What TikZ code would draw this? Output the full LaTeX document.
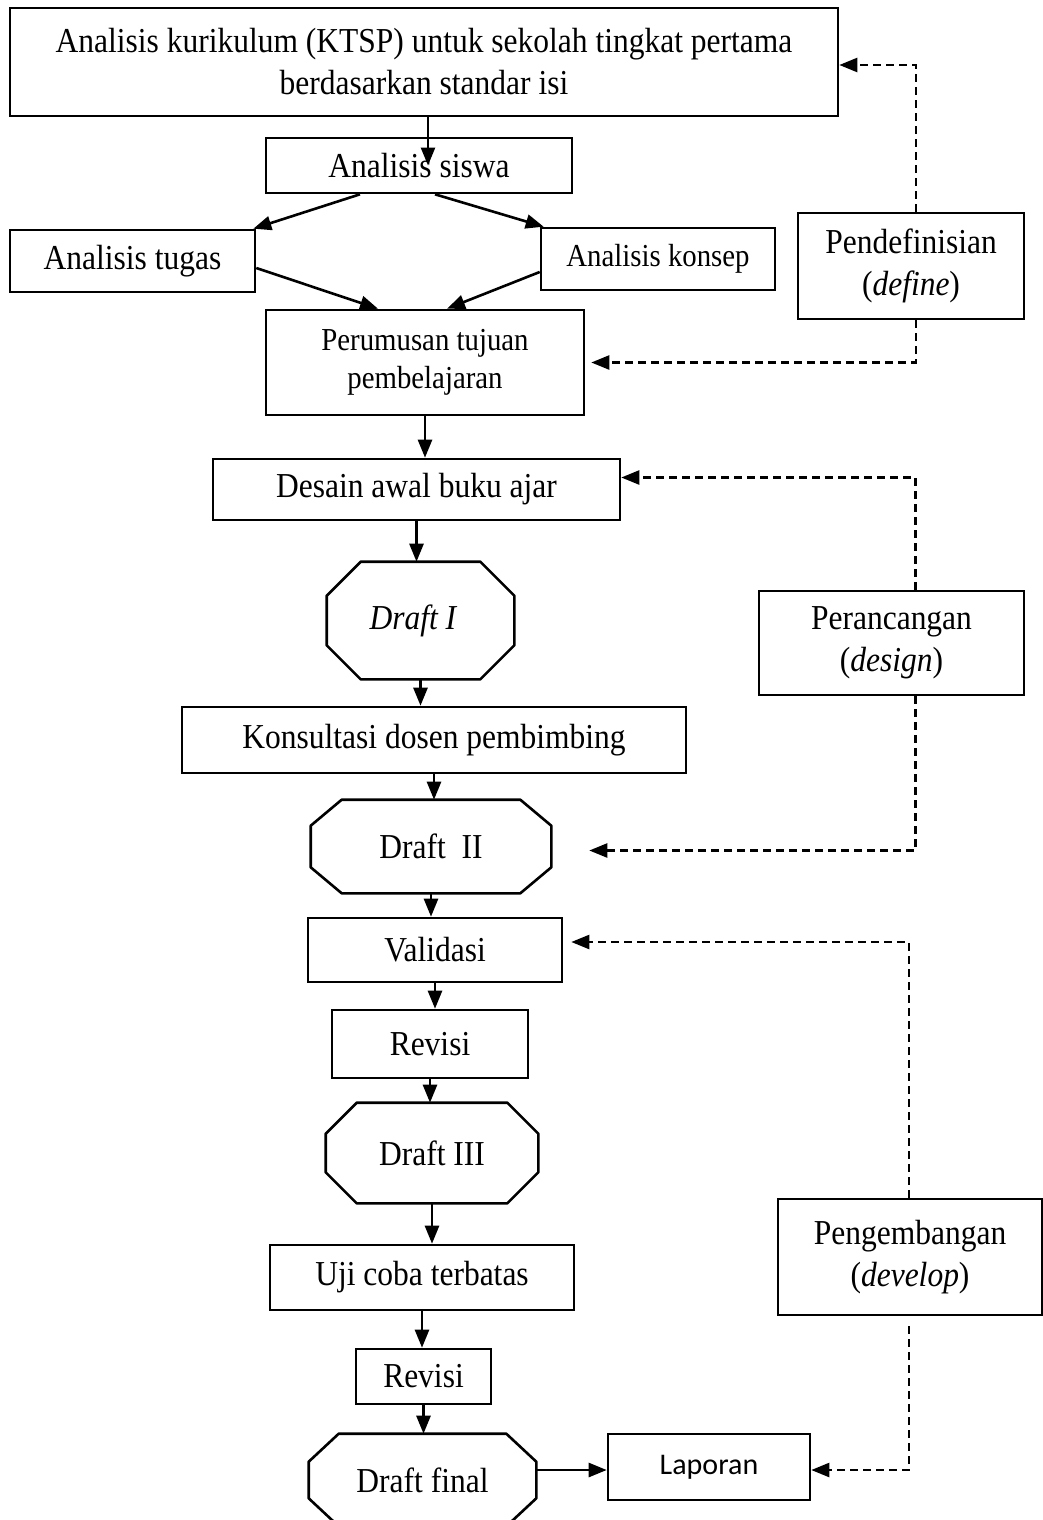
\documentclass[tikz,border=0pt]{standalone}
\usepackage{fontspec}
\setmainfont{Liberation Serif}[FakeStretch=0.9]
\newfontfamily\lapfont{Carlito}
\usetikzlibrary{arrows.meta}

\tikzset{
	kotak/.style={draw,line width=2.6pt,inner sep=0pt,align=center,font=\fontsize{35}{42}\selectfont},
	kecil/.style={font=\fontsize{32}{38}\selectfont},
	draf/.style={kotak,draw=none},
	arr/.style={-{Triangle[length=18pt,width=14pt]},line width=2.6pt},
	darr/.style={arr,line width=2.4pt,dash pattern=on 8pt off 5pt},
}

\begin{document}
\begin{tikzpicture}[x=1pt,y=-1pt]
		\path[use as bounding box,fill=white] (0,0) rectangle (1042,1520);
		% tahap define
		\node[kotak,minimum width=828,minimum height=108] (kur) at (424,62) {Analisis kurikulum (KTSP) untuk sekolah tingkat pertama\\ berdasarkan standar isi};
		\node[kotak,minimum width=306,minimum height=55] (siswa) at (419,165.5) {Analisis siswa};
		\node[kotak,minimum width=245,minimum height=62] (tugas) at (132.5,261) {Analisis tugas};
		\node[kotak,kecil,minimum width=234,minimum height=62] (konsep) at (658,259) {Analisis konsep};
		\node[kotak,kecil,minimum width=318,minimum height=105] (tujuan) at (425,362.5) {Perumusan tujuan\\ pembelajaran};
		\node[kotak,minimum width=226,minimum height=106] (define) at (911,266) {Pendefinisian\\ (\textit{define})};
		% tahap design
		\node[kotak,minimum width=407,minimum height=61] (desain) at (416.5,489.5) {Desain awal buku ajar};
		\node[draf,minimum width=185,minimum height=115] (drafa) at (420.5,620.5) {\hspace*{-14pt}\textit{Draft I}};
		\node[kotak,minimum width=504,minimum height=66] (konsul) at (434,740) {Konsultasi dosen pembimbing};
		\node[draf,minimum width=238,minimum height=91] (drafb) at (431,846.5) {Draft\ \ II};
		\node[kotak,minimum width=265,minimum height=104] (design) at (891.5,643) {Perancangan\\ (\textit{design})};
		% tahap develop
		\node[kotak,minimum width=254,minimum height=64] (valid) at (435,950) {Validasi};
		\node[kotak,minimum width=196,minimum height=68] (revisia) at (430,1044) {Revisi};
		\node[draf,minimum width=210,minimum height=98] (drafc) at (432,1153) {Draft III};
		\node[kotak,minimum width=304,minimum height=65] (uji) at (422,1277.5) {Uji coba terbatas};
		\node[kotak,minimum width=135,minimum height=55] (revisib) at (423.5,1376.5) {Revisi};
		\node[draf,minimum width=225,minimum height=90] (final) at (422.5,1480) {Draft final};
		\node[kotak,minimum width=202,minimum height=66,font=\lapfont\fontsize{30}{36}\selectfont] (lapor) at (709,1467) {Laporan};
		\node[kotak,minimum width=264,minimum height=116] (develop) at (910,1257) {Pengembangan\\ (\textit{develop})};

		% segi delapan untuk draft
		\foreach \n/\cx/\cy in {drafa/34/34,drafb/31/26,drafc/31/31,final/30/28}
			\draw[line width=2.6pt,line join=round] ([xshift=\cx pt]\n.north west) -- ([xshift=-\cx pt]\n.north east)
				-- ([yshift=-\cy pt]\n.north east) -- ([yshift=\cy pt]\n.south east)
				-- ([xshift=-\cx pt]\n.south east) -- ([xshift=\cx pt]\n.south west)
				-- ([yshift=\cy pt]\n.south west) -- ([yshift=-\cy pt]\n.north west) -- cycle;

		% panah
		\draw[arr] ([xshift=4pt]kur.south) -- ([xshift=4pt]kur.south |- siswa.center);
		\draw[arr] ([xshift=-59pt]siswa.south) -- ([xshift=-3pt]tugas.north east);
		\draw[arr] ([xshift=16pt]siswa.south) -- ([xshift=4pt]konsep.north west);
		\draw[arr] ([yshift=-7pt]tugas.east) -- ([xshift=-47pt]tujuan.north);
		\draw[arr] ([yshift=-13pt]konsep.west) -- ([xshift=22pt]tujuan.north);
		\foreach \a/\b in {tujuan/desain,desain/drafa,drafa/konsul,konsul/drafb,drafb/valid,valid/revisia,revisia/drafc,drafc/uji,uji/revisib,revisib/final}
			\draw[arr] (\a.south) -- (\a.south |- \b.north);
		\draw[arr] ([yshift=-3pt]final.east |- lapor.west) -- ([yshift=-3pt]lapor.west);

		% garis putus-putus
		\draw[darr] ([xshift=5pt]define.north) |- ([yshift=-3pt]kur.east);
		\draw[darr] ([xshift=5pt]define.south) |- ([xshift=6pt]tujuan.east);
		\draw[darr] ([xshift=24pt]design.north) |- ([yshift=12pt]desain.east);
		\draw[darr] ([xshift=24pt]design.south) |- ([xshift=38pt,yshift=-4pt]drafb.east);
		\draw[darr] ([xshift=-1pt]develop.north) |- ([xshift=8pt,yshift=8pt]valid.east);
		\draw[darr] ([xshift=-1pt,yshift=-10pt]develop.south) |- ([yshift=-3pt]lapor.east);
\end{tikzpicture}
\end{document}
